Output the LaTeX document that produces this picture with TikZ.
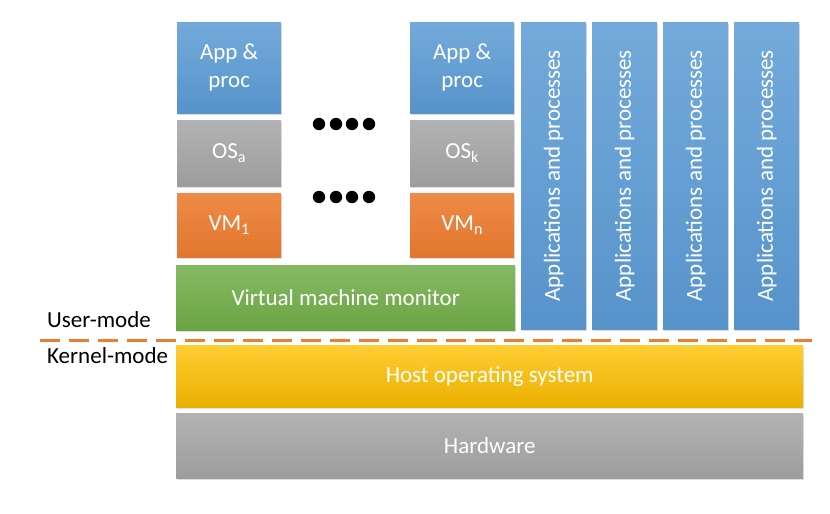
\documentclass[tikz,border=0pt]{standalone}
\usepackage{fontspec}
\setmainfont{Carlito}
\usepackage{tikz}
\usetikzlibrary{positioning,shadows}
\definecolor{AppBlue}{HTML}{5B9BD5}
\definecolor{OsGray}{HTML}{A5A5A5}
\definecolor{VmOrange}{HTML}{ED7D31}
\definecolor{VmmGreen}{HTML}{70AD47}
\definecolor{HostYellow}{HTML}{FFC000}

\begin{document}
\begin{tikzpicture}[x=1pt, y=-1pt,
  layerBox/.style={draw=none, anchor=north west, inner sep=0pt, text=white,
    font=\fontsize{23}{28}\selectfont, align=center,
    drop shadow={opacity=0.25, shadow xshift=1pt, shadow yshift=-1.5pt}},
  appBox/.style={layerBox, top color=AppBlue!85!white, bottom color=AppBlue!95!black},
  osBox/.style={layerBox, top color=OsGray!85!white, bottom color=OsGray!95!black},
  vmBox/.style={layerBox, top color=VmOrange!90!white, bottom color=VmOrange!95!black},
  modeLabel/.style={anchor=west, inner sep=0pt, font=\fontsize{23}{28}\selectfont}]

\useasboundingbox (0,0) rectangle (830,514);

% column geometry
\def \xLeft  {177}
\def \xRight {410}
\def \colW   {104}
\def \yApp   {22}
\def \yOs    {120}
\def \yVm    {193}

% left guest stack
\node[appBox, minimum width=\colW, minimum height=91] (appA) at (\xLeft, \yApp) {App \&\\proc};
\node[osBox,  minimum width=\colW, minimum height=66] (osA)  at (\xLeft, \yOs)  {OS\textsubscript{a}};
\node[vmBox,  minimum width=\colW, minimum height=64] (vmA)  at (\xLeft, \yVm)  {VM\textsubscript{1}};

% right guest stack
\node[appBox, minimum width=\colW, minimum height=91] (appK) at (\xRight, \yApp) {App \&\\proc};
\node[osBox,  minimum width=\colW, minimum height=66] (osK)  at (\xRight, \yOs)  {OS\textsubscript{k}};
\node[vmBox,  minimum width=\colW, minimum height=64] (vmN)  at (\xRight, \yVm)  {VM\textsubscript{n}};

% dots between the stacks
\foreach \x in {319,336,352,369} {
  \fill (\x,124) circle (6.2);
  \fill (\x,197) circle (6.2);
}

% monitor
\node[layerBox, top color=VmmGreen!85!white, bottom color=VmmGreen!95!black,
  minimum width=339, minimum height=65] (vmm) at (176,265) {Virtual machine monitor};

% native applications
\foreach \i/\x in {1/521,2/592,3/663,4/734} {
  \node[appBox, minimum width=65, minimum height=307] (apps\i) at (\x, 22) {};
  \node[text=white, rotate=90, font=\fontsize{23}{28}\selectfont]
    (appsText\i) at (apps\i.center) {Applications and processes};
}

% user / kernel border
\coordinate (modeL) at (40,340);
\coordinate (modeR) at (812,340);
\draw[VmOrange, line width=3pt, dash pattern=on 20pt off 9pt] (modeL) -- (modeR);
\node[modeLabel] (userMode)   at (47,320) {User-mode};
\node[modeLabel] (kernelMode) at (47,356) {Kernel-mode};

% host side
\node[layerBox, top color=HostYellow!80!white, bottom color=HostYellow!92!black,
  minimum width=627, minimum height=62] (host) at (176,345) {Host operating system};
\node[osBox, minimum width=627, minimum height=65] (hw) at (176,413) {Hardware};

\end{tikzpicture}
\end{document}
